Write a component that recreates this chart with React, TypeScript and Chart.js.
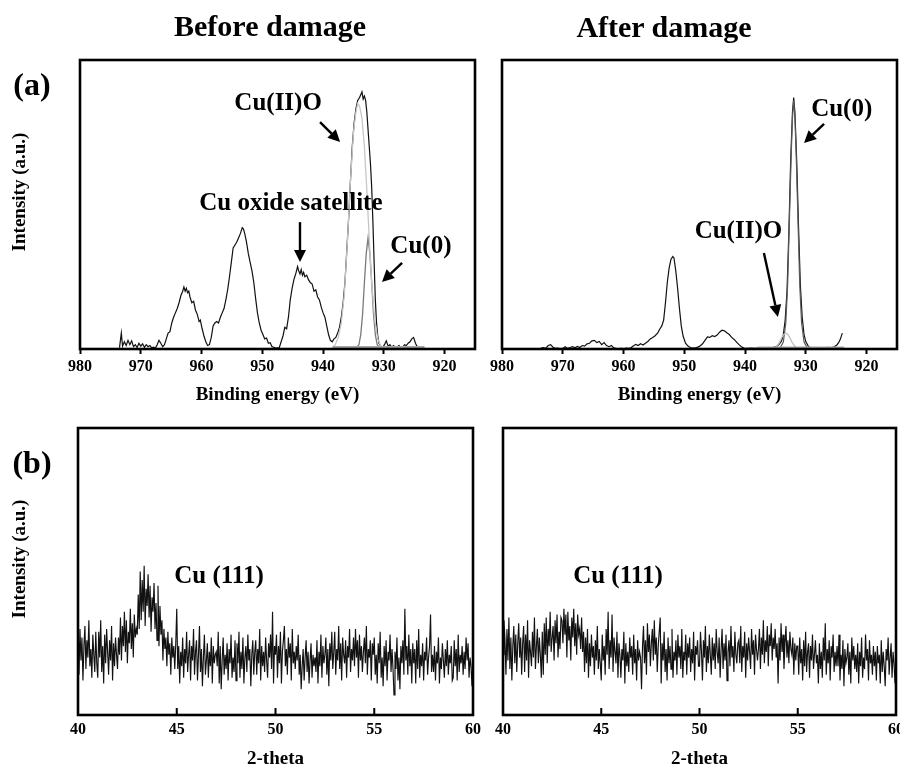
import React, { useEffect, useRef } from "react";
import { Chart, registerables } from "chart.js";

Chart.register(...registerables);

const SERIF = '"Liberation Serif", "Times New Roman", Times, serif';

type Pt = [number, number];

// ---------- XPS (Cu 2p) : before damage ----------
const xpsBeforeRaw: Pt[] = [
  [973.5, 0.5], [973.2, 5.5], [973.0, 1], [972.7, 2.5], [972.4, 1.2], [972.1, 3], [971.8, 1.5], [971.5, 2.8],
  [971.2, 0.8], [970.9, 1.5], [970.6, 0.5], [970.3, 2], [970.0, 1], [969.7, 1.8], [969.4, 0.6], [969.1, 1.5],
  [968.8, 0.8], [968.5, 1.2], [968.2, 0.4], [967.9, 0.6], [967.6, 0.3], [967.3, 1.5], [967.0, 3], [966.7, 2],
  [966.4, 0.8], [966.1, 1.5], [965.8, 3.5], [965.5, 5.5], [965.2, 6], [964.9, 9], [964.6, 11], [964.3, 12.5],
  [964.0, 14], [963.7, 16], [963.4, 18.5], [963.1, 20], [962.9, 21.5], [962.7, 20], [962.5, 21], [962.3, 19.5],
  [962.1, 20], [961.9, 18], [961.6, 16], [961.3, 16.5], [961.0, 13.5], [960.7, 12], [960.4, 9.5], [960.2, 10],
  [959.9, 7], [959.6, 4.5], [959.3, 2.5], [959.0, 1.2], [958.7, 1.5], [958.4, 4], [958.1, 8], [957.8, 9],
  [957.5, 9.5], [957.2, 9], [956.9, 11], [956.6, 12.5], [956.3, 14], [956.0, 17], [955.7, 20.5], [955.4, 25],
  [955.1, 30], [954.8, 35], [954.5, 36], [954.2, 37], [953.9, 38.5], [953.6, 40], [953.3, 42], [953.1, 41.5],
  [952.9, 40], [952.6, 37], [952.3, 33], [952.0, 30], [951.7, 27], [951.4, 23], [951.1, 17.5], [950.8, 12.5],
  [950.5, 9], [950.2, 6.5], [949.9, 5], [949.6, 3.5], [949.3, 3.8], [949.0, 2], [948.7, 2.2], [948.4, 0.8],
  [948.1, 0.6], [947.8, 0.3], [947.5, 0.4], [947.2, 0.5], [946.9, 2.5], [946.6, 4.5], [946.3, 7.5], [946.0, 7],
  [945.7, 11], [945.4, 17], [945.1, 21], [944.8, 24], [944.5, 26], [944.2, 28.5], [944.0, 27], [943.8, 26],
  [943.6, 27.5], [943.4, 25.5], [943.2, 26.5], [943.0, 25], [942.7, 25.5], [942.4, 24], [942.1, 23], [941.8, 22.5],
  [941.5, 20], [941.2, 20.5], [940.9, 18], [940.6, 17], [940.3, 14.5], [940.0, 12.5], [939.7, 11], [939.4, 8],
  [939.1, 5], [938.8, 3], [938.5, 2.5], [938.2, 3.5], [937.9, 4], [937.6, 5.5], [937.3, 7.5], [937.0, 11],
  [936.7, 16], [936.4, 23], [936.1, 34], [935.8, 45], [935.5, 58], [935.2, 70], [934.9, 78], [934.6, 83],
  [934.3, 86], [934.0, 87], [933.8, 88], [933.6, 89], [933.4, 86.5], [933.2, 87.5], [933.0, 86], [932.8, 82],
  [932.6, 76], [932.4, 70], [932.2, 64], [932.0, 56], [931.8, 44], [931.6, 30], [931.4, 17], [931.2, 9],
  [931.0, 4.5], [930.8, 2], [930.5, 1], [930.2, 0.5], [929.9, 1.5], [929.6, 2.8], [929.3, 1], [929.0, 1.5],
  [928.7, 0.6], [928.4, 1.2], [928.1, 0.5], [927.8, 0.8], [927.5, 1.2], [927.2, 0.4], [926.9, 0.6], [926.6, 1.5],
  [926.3, 1.2], [926.0, 2], [925.7, 2.5], [925.4, 3.5], [925.1, 4], [924.8, 2], [924.5, 0.8], [924.2, 0.5],
];
const xpsBeforeCuIIO: Pt[] = [
  [938.5, 0.5], [938.0, 1.5], [937.5, 4], [937.0, 9], [936.5, 19], [936.0, 37], [935.5, 58], [935.0, 75],
  [934.6, 82], [934.3, 85], [934.0, 84], [933.6, 80], [933.2, 70], [932.8, 55], [932.4, 38], [932.0, 23],
  [931.5, 10], [931.0, 3.5], [930.5, 1], [930.0, 0.3],
];
const xpsBeforeCu0: Pt[] = [
  [934.6, 0.3], [934.1, 1.5], [933.8, 5], [933.5, 12], [933.2, 23], [932.9, 33], [932.6, 38.5], [932.3, 33],
  [932.0, 23], [931.7, 12], [931.4, 5], [931.1, 1.5], [930.6, 0.3],
];
const xpsBeforeBaseline: Pt[] = [[938.4, 0.7], [923.3, 0.7]];

// ---------- XPS (Cu 2p) : after damage ----------
const xpsAfterRaw: Pt[] = [
  [973.6, 0.3], [973.2, 0.5], [972.8, 0.2], [972.4, 1.2], [972.0, 1.5], [971.6, 0.6], [971.2, 0.2], [970.8, 0.3],
  [970.4, 0.1], [970.0, 0.2], [969.6, 0.8], [969.2, 0.2], [968.8, 0.5], [968.4, 0.8], [968.0, 0.4], [967.6, 0.9],
  [967.2, 0.5], [966.8, 1.2], [966.4, 1], [966.0, 1.8], [965.6, 2], [965.2, 2.8], [964.8, 3], [964.4, 2.2],
  [964.0, 2.6], [963.6, 1.5], [963.2, 2.2], [962.8, 1.2], [962.4, 0.8], [962.0, 1.2], [961.6, 0.4], [961.2, 0.2],
  [960.8, 0.1], [960.4, 0.2], [960.0, 0.1], [959.6, 0.3], [959.2, 0.2], [958.8, 0.4], [958.4, 1], [958.0, 1.6],
  [957.6, 1.2], [957.2, 1.8], [956.8, 1.4], [956.4, 2], [956.0, 2.6], [955.6, 3.5], [955.2, 4], [954.8, 4.6],
  [954.4, 5.5], [954.0, 7], [953.7, 8], [953.4, 10], [953.1, 16], [952.8, 23], [952.5, 28], [952.2, 31],
  [951.9, 32], [951.7, 31.5], [951.4, 27], [951.1, 21], [950.8, 14], [950.5, 8], [950.2, 4.5], [949.8, 2],
  [949.4, 1], [949.0, 0.5], [948.5, 0.3], [948.0, 0.5], [947.5, 0.9], [947.0, 1.8], [946.6, 3], [946.2, 4.2],
  [945.8, 4], [945.4, 4.6], [945.0, 4.3], [944.6, 4.8], [944.2, 5.8], [943.8, 6.5], [943.4, 6.3], [943.0, 5.6],
  [942.6, 5], [942.2, 4], [941.8, 3.3], [941.4, 2.4], [941.0, 1.5], [940.6, 0.8], [940.2, 0.3], [939.6, 0.2],
  [939.0, 0.3], [938.4, 0.2], [937.8, 0.3], [937.0, 0.2], [936.2, 0.3], [935.4, 0.5], [934.8, 0.9], [934.4, 1.6],
  [934.0, 2.8], [933.7, 5], [933.4, 10], [933.1, 20], [932.8, 40], [932.5, 65], [932.2, 82], [932.0, 87],
  [931.8, 82], [931.5, 65], [931.2, 42], [930.9, 22], [930.6, 11], [930.3, 5], [930.0, 2.5], [929.6, 1],
  [929.2, 0.3], [928.8, 0.2], [928.3, 0.4], [927.8, 0.2], [927.3, 0.5], [926.8, 0.3], [926.3, 0.6], [925.8, 0.4],
  [925.3, 0.8], [924.9, 1.4], [924.6, 2.2], [924.3, 3.5], [924.0, 5.5],
];
const xpsAfterCu0: Pt[] = [
  [934.2, 0.4], [933.7, 2.5], [933.3, 9], [933.0, 22], [932.7, 45], [932.4, 68], [932.2, 80], [932.0, 86],
  [931.8, 80], [931.6, 68], [931.3, 45], [931.0, 22], [930.7, 9], [930.3, 2.5], [929.8, 0.4],
];
const xpsAfterCuIIO: Pt[] = [
  [935.6, 0.1], [934.9, 0.7], [934.4, 2], [934.0, 3.8], [933.6, 5.1], [933.3, 5.5], [933.0, 5.1], [932.6, 3.8],
  [932.2, 2], [931.7, 0.7], [931.0, 0.1],
];
const xpsAfterBaseline: Pt[] = [[937.9, 0.5], [923.7, 0.5]];

const xpsTicks = [920, 930, 940, 950, 960, 970, 980];

// ---------- XRD : 2-theta from 40 to 60 in 0.05 steps (one row per degree) ----------
const xrdStart = 40;
const xrdStep = 0.05;
const xrdBefore = [
  25, 14, 30, 19, 27, 12, 24, 31, 16, 26, 20, 33, 17, 23, 13, 28, 21, 15, 29, 18,
  13, 29, 20, 33, 15, 24, 11, 28, 18, 30, 22, 14, 26, 19, 31, 12, 25, 17, 27, 21,
  16, 27, 21, 34, 19, 31, 24, 36, 22, 33, 18, 29, 25, 37, 23, 32, 20, 35, 27, 30,
  28, 42, 30, 50, 33, 47, 36, 52, 31, 44, 38, 49, 34, 45, 29, 41, 36, 46, 30, 39,
  26, 45, 24, 38, 28, 33, 19, 30, 23, 27, 17, 29, 21, 25, 14, 27, 20, 24, 16, 25,
  37, 16, 24, 11, 22, 17, 27, 13, 23, 18, 29, 15, 21, 26, 12, 24, 19, 30, 14, 22,
  26, 12, 21, 31, 15, 23, 10, 20, 28, 14, 19, 25, 13, 22, 17, 27, 11, 24, 18, 21,
  22, 17, 29, 11, 24, 9, 19, 27, 14, 21, 16, 25, 12, 23, 18, 28, 13, 20, 15, 26,
  12, 25, 18, 29, 13, 22, 16, 27, 11, 20, 24, 15, 28, 19, 23, 10, 21, 26, 14, 22,
  26, 14, 23, 18, 30, 12, 24, 17, 22, 15, 27, 19, 13, 25, 20, 28, 16, 36, 11, 24,
  21, 28, 13, 24, 18, 29, 11, 22, 26, 31, 17, 23, 14, 27, 20, 25, 12, 30, 18, 22,
  16, 24, 19, 28, 14, 21, 9, 17, 23, 12, 20, 26, 15, 22, 11, 19, 25, 13, 21, 17,
  20, 15, 26, 11, 22, 17, 28, 13, 24, 18, 21, 27, 14, 23, 10, 25, 19, 29, 16, 22,
  29, 14, 23, 19, 31, 16, 25, 12, 27, 21, 18, 26, 13, 24, 20, 30, 15, 23, 19, 27,
  17, 30, 20, 26, 13, 28, 19, 24, 15, 22, 27, 18, 31, 14, 23, 20, 26, 12, 25, 21,
  27, 14, 21, 11, 25, 18, 29, 13, 20, 10, 24, 17, 26, 12, 22, 19, 28, 15, 23, 16,
  7, 22, 16, 27, 12, 20, 9, 24, 18, 26, 14, 37, 19, 24, 14, 28, 17, 23, 11, 25,
  18, 23, 11, 26, 16, 30, 13, 21, 17, 25, 12, 22, 19, 27, 14, 20, 24, 35, 15, 21,
  15, 24, 12, 22, 18, 27, 11, 20, 16, 25, 19, 13, 23, 17, 26, 14, 21, 18, 24, 12,
  13, 26, 17, 23, 12, 28, 15, 21, 18, 24, 14, 22, 16, 27, 19, 25, 13, 20, 17, 10,
  20,
];
const xrdAfter = [
  21, 33, 26, 14, 30, 19, 34, 16, 27, 12, 24, 31, 18, 28, 15, 25, 32, 20, 27, 14,
  25, 31, 15, 28, 19, 33, 13, 26, 22, 17, 29, 20, 34, 16, 24, 30, 18, 27, 21, 13,
  29, 14, 32, 21, 34, 18, 30, 24, 36, 22, 27, 31, 19, 33, 25, 35, 20, 29, 23, 34,
  33, 25, 37, 28, 35, 20, 36, 26, 31, 19, 34, 27, 37, 24, 32, 21, 35, 28, 30, 23,
  34, 22, 29, 15, 27, 18, 30, 13, 25, 17, 28, 20, 24, 14, 26, 19, 31, 16, 23, 18,
  12, 28, 19, 24, 14, 30, 21, 36, 16, 26, 20, 35, 15, 27, 22, 18, 29, 13, 25, 21,
  13, 23, 19, 29, 11, 25, 17, 22, 15, 27, 20, 24, 14, 28, 18, 23, 12, 26, 19, 22,
  20, 9, 24, 31, 18, 26, 14, 32, 22, 28, 17, 25, 30, 19, 33, 21, 27, 15, 24, 29,
  34, 11, 25, 19, 29, 15, 23, 12, 27, 18, 24, 16, 30, 13, 22, 19, 26, 14, 28, 20,
  24, 16, 30, 13, 22, 19, 28, 14, 25, 20, 27, 15, 23, 18, 29, 12, 24, 21, 26, 17,
  17, 29, 22, 12, 26, 20, 31, 15, 24, 18, 28, 21, 14, 27, 19, 25, 16, 30, 22, 18,
  27, 13, 23, 30, 16, 25, 19, 28, 12, 22, 26, 17, 31, 20, 24, 15, 29, 21, 18, 25,
  26, 18, 31, 15, 24, 20, 29, 13, 25, 19, 27, 22, 16, 30, 21, 26, 14, 28, 23, 19,
  23, 30, 16, 27, 21, 33, 18, 26, 22, 31, 17, 28, 24, 32, 19, 27, 23, 30, 20, 25,
  11, 27, 19, 32, 22, 28, 16, 25, 31, 20, 26, 18, 29, 23, 21, 27, 14, 25, 19, 24,
  24, 14, 27, 18, 23, 12, 26, 17, 29, 15, 22, 25, 13, 24, 19, 28, 16, 21, 26, 18,
  21, 11, 25, 16, 22, 13, 27, 19, 32, 14, 23, 18, 26, 12, 24, 20, 28, 15, 22, 17,
  24, 17, 28, 12, 21, 16, 26, 10, 23, 18, 20, 25, 14, 22, 11, 27, 19, 24, 16, 21,
  15, 25, 11, 22, 17, 27, 13, 20, 16, 28, 19, 23, 12, 26, 18, 21, 14, 24, 17, 22,
  12, 24, 18, 21, 11, 26, 15, 22, 17, 10, 23, 19, 27, 14, 20, 25, 13, 22, 18, 11,
  19,
];
const xrdTicks = [40, 45, 50, 55, 60];

// ---------- annotations (data coordinates) ----------
type Label = { text: string; x: number; y: number };
type Arrow = { x1: number; y1: number; x2: number; y2: number };

const beforeXpsLabels: Label[] = [
  { text: "Cu(II)O", x: 947.4, y: 84.8 },
  { text: "Cu oxide satellite", x: 945.3, y: 50.2 },
  { text: "Cu(0)", x: 923.9, y: 35.3 },
];
const beforeXpsArrows: Arrow[] = [
  { x1: 940.5, y1: 78.5, x2: 937.2, y2: 71.6 },
  { x1: 943.8, y1: 43.9, x2: 943.8, y2: 30.1 },
  { x1: 927.0, y1: 29.8, x2: 930.3, y2: 23.2 },
];
const afterXpsLabels: Label[] = [
  { text: "Cu(0)", x: 924.1, y: 82.7 },
  { text: "Cu(II)O", x: 941.1, y: 40.8 },
];
const afterXpsArrows: Arrow[] = [
  { x1: 927.0, y1: 77.9, x2: 930.3, y2: 71.3 },
  { x1: 936.9, y1: 33.2, x2: 934.6, y2: 11.1 },
];
const beforeXrdLabels: Label[] = [{ text: "Cu (111)", x: 47.14, y: 48.4 }];
const afterXrdLabels: Label[] = [{ text: "Cu (111)", x: 45.85, y: 48.4 }];

// ---------- plugin: frame, inner ticks, annotations, arrows ----------
const decorPlugin = {
  id: "decor",
  afterDatasetsDraw(chart: any, _args: any, opts: any) {
    const { ctx, chartArea: a, scales } = chart;
    const xs = scales.x;
    const ys = scales.y;
    ctx.save();
    ctx.strokeStyle = "#000";
    if (opts.innerTicks) {
      ctx.lineWidth = 2;
      for (const t of xs.ticks) {
        const px = xs.getPixelForValue(t.value);
        ctx.beginPath();
        ctx.moveTo(px, a.bottom);
        ctx.lineTo(px, a.bottom - 7);
        ctx.stroke();
      }
    }
    ctx.lineWidth = 2.6;
    ctx.strokeRect(a.left, a.top, a.right - a.left, a.bottom - a.top);
    ctx.fillStyle = "#000";
    ctx.font = `bold 25px ${SERIF}`;
    ctx.textAlign = "center";
    ctx.textBaseline = "middle";
    for (const l of (opts.labels || []) as Label[]) {
      ctx.fillText(l.text, xs.getPixelForValue(l.x), ys.getPixelForValue(l.y));
    }
    for (const ar of (opts.arrows || []) as Arrow[]) {
      const x1 = xs.getPixelForValue(ar.x1);
      const y1 = ys.getPixelForValue(ar.y1);
      const x2 = xs.getPixelForValue(ar.x2);
      const y2 = ys.getPixelForValue(ar.y2);
      const ang = Math.atan2(y2 - y1, x2 - x1);
      const head = 12;
      const hw = 6;
      const bx = x2 - head * Math.cos(ang);
      const by = y2 - head * Math.sin(ang);
      ctx.lineWidth = 2.4;
      ctx.beginPath();
      ctx.moveTo(x1, y1);
      ctx.lineTo(bx, by);
      ctx.stroke();
      ctx.beginPath();
      ctx.moveTo(x2, y2);
      ctx.lineTo(bx + hw * Math.sin(ang), by - hw * Math.cos(ang));
      ctx.lineTo(bx - hw * Math.sin(ang), by + hw * Math.cos(ang));
      ctx.closePath();
      ctx.fill();
    }
    ctx.restore();
  },
};

type Series = { points: Pt[]; color: string; width: number };

function lineDataset(s: Series) {
  return {
    data: s.points.map(([x, y]) => ({ x, y })),
    borderColor: s.color,
    borderWidth: s.width,
    pointRadius: 0,
    tension: 0,
    fill: false,
  };
}

function buildConfig(p: {
  series: Series[];
  min: number;
  max: number;
  reverse: boolean;
  ticks: number[];
  outerTicks: boolean;
  tickPadding: number;
  axisHeight: number;
  title: string;
  titlePad: number;
  padLeft: number;
  padRight: number;
  padTop: number;
  labels: Label[];
  arrows: Arrow[];
}): any {
  return {
    type: "line",
    data: { datasets: p.series.map(lineDataset) },
    options: {
      responsive: false,
      animation: false,
      events: [],
      layout: { padding: { left: p.padLeft, right: p.padRight, top: p.padTop, bottom: 0 } },
      plugins: {
        legend: { display: false },
        tooltip: { enabled: false },
        decor: { labels: p.labels, arrows: p.arrows, innerTicks: !p.outerTicks },
      },
      scales: {
        x: {
          type: "linear",
          min: p.min,
          max: p.max,
          reverse: p.reverse,
          afterBuildTicks: (s: any) => {
            s.ticks = p.ticks.map((v) => ({ value: v }));
          },
          afterFit: (s: any) => {
            s.height = p.axisHeight;
          },
          grid: {
            drawOnChartArea: false,
            drawTicks: p.outerTicks,
            tickLength: p.outerTicks ? 5 : 0,
            tickWidth: 2,
            tickColor: "#000",
            color: "#000",
          },
          border: { display: false },
          ticks: {
            color: "#000",
            padding: p.tickPadding,
            maxRotation: 0,
            autoSkip: false,
            font: { family: SERIF, size: 16, weight: "bold" },
          },
          title: {
            display: true,
            text: p.title,
            color: "#000",
            font: { family: SERIF, size: 19, weight: "bold" },
            padding: { top: 0, bottom: p.titlePad },
          },
        },
        y: { display: false, min: 0, max: 100 },
      },
    },
    plugins: [decorPlugin],
  };
}

function xrdSeries(values: number[]): Series {
  return {
    points: values.map((v, i) => [xrdStart + i * xrdStep, v] as Pt),
    color: "#111",
    width: 1.15,
  };
}

function ChartPanel(props: { left: number; top: number; width: number; height: number; config: () => any }) {
  const ref = useRef<HTMLCanvasElement>(null);
  useEffect(() => {
    const chart = new Chart(ref.current as HTMLCanvasElement, props.config());
    return () => chart.destroy();
  }, []);
  return (
    <canvas
      ref={ref}
      width={props.width}
      height={props.height}
      style={{ position: "absolute", left: props.left, top: props.top, width: props.width, height: props.height }}
    />
  );
}

const textStyle = (x: number, y: number, size: number, rotate = false): React.CSSProperties => ({
  position: "absolute",
  left: x,
  top: y,
  transform: rotate ? "translate(-50%, -50%) rotate(-90deg)" : "translate(-50%, -50%)",
  fontFamily: SERIF,
  fontWeight: "bold",
  fontSize: size,
  lineHeight: 1,
  whiteSpace: "nowrap",
  color: "#000",
});

export default function App() {
  return (
    <div style={{ position: "absolute", left: 0, top: 0, width: 900, height: 767, overflow: "hidden", background: "#fff" }}>
      <ChartPanel
        left={0}
        top={0}
        width={480}
        height={410}
        config={() =>
          buildConfig({
            series: [
              { points: xpsBeforeBaseline, color: "#a8a8a8", width: 2 },
              { points: xpsBeforeCuIIO, color: "#c6c6c6", width: 1.3 },
              { points: xpsBeforeCu0, color: "#7a7a7a", width: 1.3 },
              { points: xpsBeforeRaw, color: "#111", width: 1.2 },
            ],
            min: 915,
            max: 980,
            reverse: true,
            ticks: xpsTicks,
            outerTicks: true,
            tickPadding: 3,
            axisHeight: 61,
            title: "Binding energy (eV)",
            titlePad: 4,
            padLeft: 80,
            padRight: 5,
            padTop: 60,
            labels: beforeXpsLabels,
            arrows: beforeXpsArrows,
          })
        }
      />
      <ChartPanel
        left={480}
        top={0}
        width={440}
        height={410}
        config={() =>
          buildConfig({
            series: [
              { points: xpsAfterBaseline, color: "#a8a8a8", width: 2 },
              { points: xpsAfterCuIIO, color: "#c0c0c0", width: 1.3 },
              { points: xpsAfterCu0, color: "#5a5a5a", width: 1.2 },
              { points: xpsAfterRaw, color: "#111", width: 1.2 },
            ],
            min: 915,
            max: 980,
            reverse: true,
            ticks: xpsTicks,
            outerTicks: true,
            tickPadding: 3,
            axisHeight: 61,
            title: "Binding energy (eV)",
            titlePad: 4,
            padLeft: 22,
            padRight: 23,
            padTop: 60,
            labels: afterXpsLabels,
            arrows: afterXpsArrows,
          })
        }
      />
      <ChartPanel
        left={0}
        top={400}
        width={490}
        height={380}
        config={() =>
          buildConfig({
            series: [xrdSeries(xrdBefore)],
            min: 40,
            max: 60,
            reverse: false,
            ticks: xrdTicks,
            outerTicks: false,
            tickPadding: 5,
            axisHeight: 65,
            title: "2-theta",
            titlePad: 10,
            padLeft: 78,
            padRight: 17,
            padTop: 28,
            labels: beforeXrdLabels,
            arrows: [],
          })
        }
      />
      <ChartPanel
        left={480}
        top={400}
        width={440}
        height={380}
        config={() =>
          buildConfig({
            series: [xrdSeries(xrdAfter)],
            min: 40,
            max: 60,
            reverse: false,
            ticks: xrdTicks,
            outerTicks: false,
            tickPadding: 5,
            axisHeight: 65,
            title: "2-theta",
            titlePad: 10,
            padLeft: 23,
            padRight: 24,
            padTop: 28,
            labels: afterXrdLabels,
            arrows: [],
          })
        }
      />
      <div style={textStyle(270, 26, 30)}>Before damage</div>
      <div style={textStyle(664, 27, 30)}>After damage</div>
      <div style={textStyle(32, 84, 32)}>(a)</div>
      <div style={textStyle(32, 462, 32)}>(b)</div>
      <div style={textStyle(18, 192, 19, true)}>Intensity (a.u.)</div>
      <div style={textStyle(18, 559, 19, true)}>Intensity (a.u.)</div>
    </div>
  );
}
